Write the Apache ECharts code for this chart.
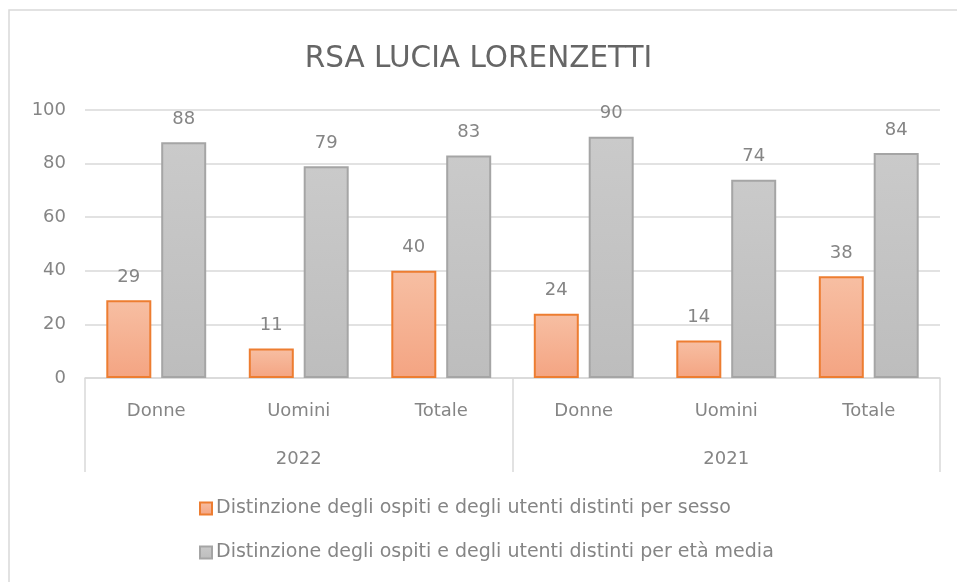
<!DOCTYPE html>
<html>
<head>
<meta charset="utf-8">
<script src="https://cdn.jsdelivr.net/npm/echarts@6/dist/echarts.min.js"></script>
<style>
  html, body { margin: 0; padding: 0; background: #fff; }
  #chart { width: 957px; height: 582px; }
</style>
</head>
<body>
<div id="chart"></div>
<script>
// categorie (due livelli)
const categories = ['Donne', 'Uomini', 'Totale', 'Donne', 'Uomini', 'Totale']
const years = ['2022', '2021']
const perSesso = [29, 11, 40, 24, 14, 38]
const perEta = [88, 79, 83, 90, 74, 84]
const yTicks = [0, 20, 40, 60, 80, 100]

const seriesNames = [
  'Distinzione degli ospiti e degli utenti distinti per sesso',
  'Distinzione degli ospiti e degli utenti distinti per età media'
]

const font = '"DejaVu Sans", "Open Sans", sans-serif'
const textGray = '#858585'

let myChart = echarts.init(document.getElementById('chart'))
myChart.setOption({
  animation: false,
  textStyle: { fontFamily: font },
  // cornice del grafico
  graphic: [{
    type: 'rect',
    shape: { x: 9, y: 10, width: 1000, height: 700 },
    style: { fill: 'none', stroke: '#d9d9d9', lineWidth: 1.5 },
    silent: true
  }],
  title: {
    text: 'RSA LUCIA LORENZETTI',
    left: 'center',
    top: 39,
    textStyle: { color: '#666666', fontSize: 29.5, fontWeight: 'normal', fontFamily: font }
  },
  legend: {
    orient: 'vertical',
    left: 194,
    top: 494,
    itemGap: 25,
    itemWidth: 12,
    itemHeight: 12,
    icon: 'rect',
    data: seriesNames,
    textStyle: { color: textGray, fontSize: 19, fontFamily: font, padding: [0, 0, 0, -1] }
  },
  grid: { left: 85, right: 17, top: 110, bottom: 204 },
  xAxis: [
    {
      type: 'category',
      data: categories,
      axisTick: { show: false },
      axisLine: { lineStyle: { color: '#d9d9d9', width: 1.5 } },
      axisLabel: { color: textGray, fontSize: 18, margin: 24, fontFamily: font }
    },
    {
      type: 'category',
      data: years,
      position: 'bottom',
      axisLine: { show: false },
      axisTick: { show: true, length: 94, lineStyle: { color: '#d9d9d9', width: 1.5 } },
      axisLabel: { color: textGray, fontSize: 18, margin: 72, fontFamily: font }
    }
  ],
  yAxis: {
    type: 'value',
    min: yTicks[0],
    max: yTicks[yTicks.length - 1],
    interval: 20,
    axisLine: { show: false },
    axisTick: { show: false },
    axisLabel: { color: textGray, fontSize: 18, margin: 19, fontFamily: font },
    splitLine: { lineStyle: { color: '#d9d9d9', width: 1.5 } }
  },
  series: [
    {
      name: seriesNames[0],
      type: 'bar',
      data: perSesso,
      barWidth: 45,
      barGap: '22%',
      label: { show: true, position: 'top', distance: 14, color: textGray, fontSize: 18, fontFamily: font },
      itemStyle: {
        color: new echarts.graphic.LinearGradient(0, 0, 0, 1, [
          { offset: 0, color: '#f7bfa3' },
          { offset: 1, color: '#f4a482' }
        ]),
        borderColor: '#ed7d31',
        borderWidth: 2
      }
    },
    {
      name: seriesNames[1],
      type: 'bar',
      data: perEta,
      barWidth: 45,
      label: { show: true, position: 'top', distance: 14, color: textGray, fontSize: 18, fontFamily: font },
      itemStyle: {
        color: new echarts.graphic.LinearGradient(0, 0, 0, 1, [
          { offset: 0, color: '#cacaca' },
          { offset: 1, color: '#bdbdbd' }
        ]),
        borderColor: '#a5a5a5',
        borderWidth: 2
      }
    }
  ]
})
</script>
</body>
</html>
